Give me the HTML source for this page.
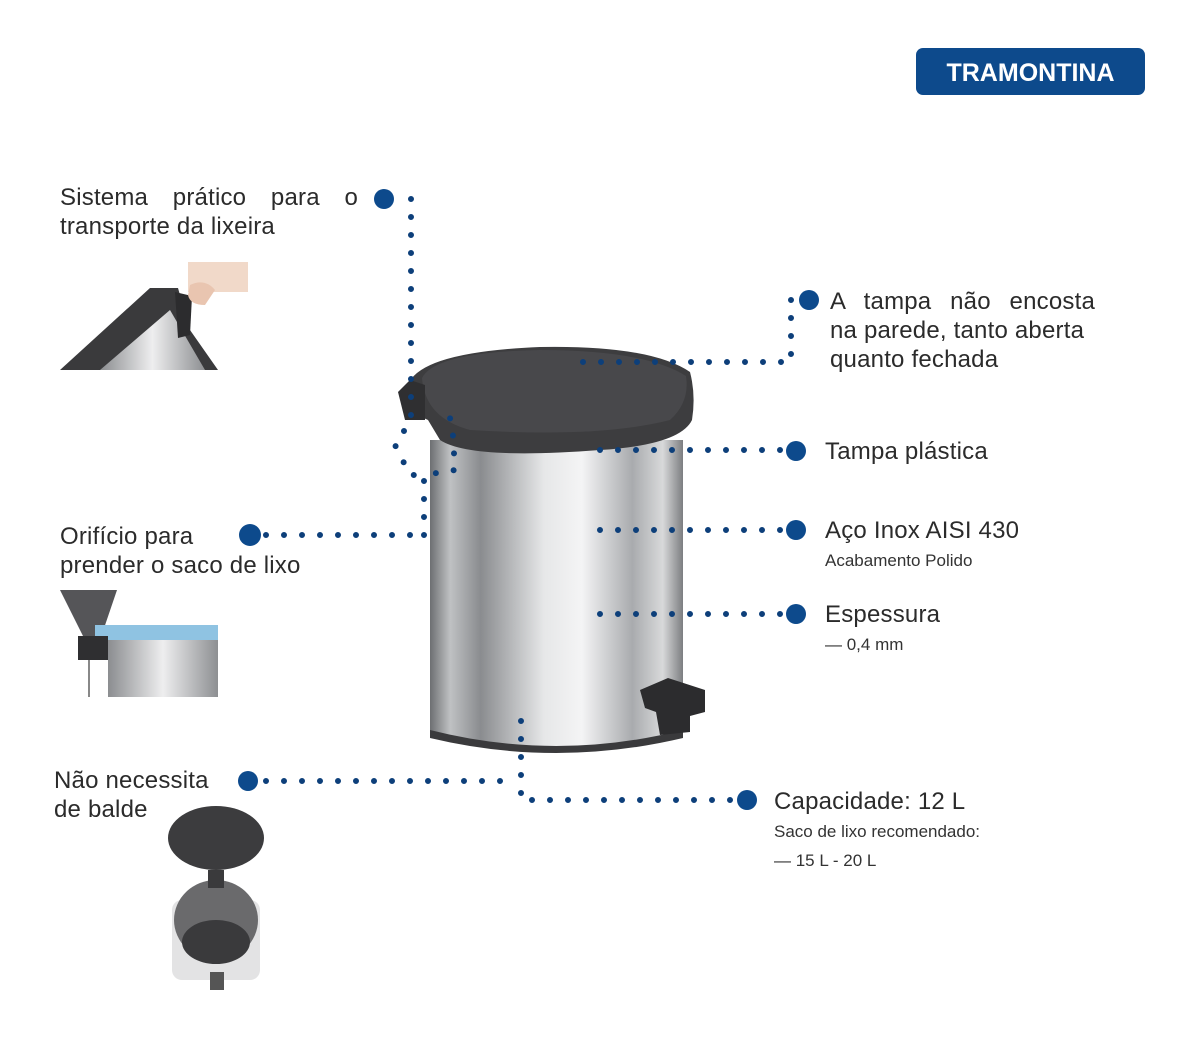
<!DOCTYPE html>
<html><head><meta charset="utf-8">
<style>
html,body{margin:0;padding:0;background:#fff;}
body{width:1200px;height:1039px;position:relative;overflow:hidden;font-family:"Liberation Sans",sans-serif;color:#2b2b2b;}
.t{position:absolute;font-size:24px;line-height:29px;letter-spacing:0.2px;}
.s{position:absolute;font-size:17px;line-height:29px;color:#333;}
svg{position:absolute;left:0;top:0;}
</style></head><body>
<svg width="1200" height="1039" viewBox="0 0 1200 1039">
<defs>
<linearGradient id="steel" x1="0" x2="1" y1="0" y2="0">
<stop offset="0" stop-color="#6d6f72"/><stop offset="0.08" stop-color="#bfc1c3"/>
<stop offset="0.2" stop-color="#8a8c8f"/><stop offset="0.45" stop-color="#e6e7e8"/>
<stop offset="0.6" stop-color="#f4f4f5"/><stop offset="0.8" stop-color="#a9abae"/>
<stop offset="0.92" stop-color="#d8d9da"/><stop offset="1" stop-color="#7c7e81"/>
</linearGradient>
<linearGradient id="steel2" x1="0" x2="1"><stop offset="0" stop-color="#8b8d90"/><stop offset="0.5" stop-color="#eeeeef"/><stop offset="1" stop-color="#8d8f92"/></linearGradient>
</defs>
<rect x="916" y="48" width="229" height="47" rx="7" fill="#0d4a8c"/>
<text x="1030.5" y="81" text-anchor="middle" font-family="Liberation Sans" font-weight="bold" font-size="25" fill="#fff">TRAMONTINA</text>

<path d="M430,440 L683,440 L683,735 Q556,765 430,735 Z" fill="url(#steel)"/>
<path d="M430,730 Q556,762 683,730 L683,738 Q556,768 430,738 Z" fill="#3a3a3c"/>
<path d="M408,385 Q420,352 540,347 Q650,345 690,372 Q696,395 692,420 Q680,445 600,450 Q470,460 440,440 L428,420 Q405,410 400,395 Z" fill="#3d3d3f"/>
<path d="M422,378 Q435,352 540,350 Q645,350 686,376 Q690,402 670,420 Q600,438 470,430 Q425,418 422,378 Z" fill="#48484b"/>
<path d="M398,392 L410,380 L425,385 L425,420 L405,420 Z" fill="#2f2f31"/>
<path d="M640,690 L668,678 L705,690 L705,712 L690,716 L690,732 L660,735 L656,712 L645,708 Z" fill="#2c2c2e"/>

<rect x="188" y="262" width="60" height="30" fill="#f1d9c9"/>
<path d="M60,370 L150,288 L178,288 L190,330 L218,370 Z" fill="#3a3a3c"/>
<path d="M100,370 L170,310 L205,370 Z" fill="url(#steel2)"/>
<path d="M175,292 L192,296 L190,335 L178,338 Z" fill="#2c2c2e"/>
<path d="M190,285 Q205,278 215,290 L205,305 Q190,305 188,295 Z" fill="#e9c5b0"/>
<path d="M60,590 L117,590 L100,640 L85,640 Z" fill="#555558"/>
<path d="M95,625 L218,625 L218,640 L95,640 Z" fill="#8fc3e2"/>
<rect x="108" y="640" width="110" height="57" fill="url(#steel2)"/>
<rect x="78" y="636" width="30" height="24" fill="#2f2f31"/>
<rect x="88" y="660" width="2" height="37" fill="#888"/>
<ellipse cx="216" cy="838" rx="48" ry="32" fill="#3c3c3e"/>
<rect x="172" y="900" width="88" height="80" rx="10" fill="#e3e3e4"/>
<ellipse cx="216" cy="920" rx="42" ry="40" fill="#6a6a6c"/>
<ellipse cx="216" cy="942" rx="34" ry="22" fill="#3a3a3c"/>
<rect x="208" y="870" width="16" height="18" fill="#3a3a3c"/>
<rect x="210" y="972" width="14" height="18" fill="#555"/>

<g stroke="#0d3f7a" stroke-width="6" stroke-linecap="round" stroke-dasharray="0 18" fill="none">
<path d="M411,199 L411,420 L395,445 L410,475 L424,475"/>
<path d="M424,535 L424,475 L455,470 L452,420 L440,410"/>
<path d="M266,535 L424,535"/>
<path d="M791,300 L791,362 L570,362"/>
<path d="M780,450 L598,450"/>
<path d="M780,530 L598,530"/>
<path d="M780,614 L598,614"/>
<path d="M730,800 L521,800 L521,718"/>
<path d="M266,781 L505,781"/>
</g>
<g fill="#0d4a8c">
<circle cx="384" cy="199" r="10"/>
<circle cx="809" cy="300" r="10"/>
<circle cx="796" cy="451" r="10"/>
<circle cx="796" cy="530" r="10"/>
<circle cx="796" cy="614" r="10"/>
<circle cx="747" cy="800" r="10"/>
<circle cx="250" cy="535" r="11"/>
<circle cx="248" cy="781" r="10"/>
</g>
</svg>

<div class="t" style="left:60px;top:183px;width:298px;text-align:justify;text-align-last:justify;">Sistema prático para o</div>
<div class="t" style="left:60px;top:212px;">transporte da lixeira</div>
<div class="t" style="left:60px;top:522px;">Orifício para</div>
<div class="t" style="left:60px;top:551px;">prender o saco de lixo</div>
<div class="t" style="left:54px;top:766px;">Não necessita</div>
<div class="t" style="left:54px;top:795px;">de balde</div>

<div class="t" style="left:830px;top:287px;width:265px;text-align:justify;text-align-last:justify;">A tampa não encosta</div>
<div class="t" style="left:830px;top:316px;">na parede, tanto aberta</div>
<div class="t" style="left:830px;top:345px;">quanto fechada</div>
<div class="t" style="left:825px;top:437px;">Tampa plástica</div>
<div class="t" style="left:825px;top:516px;">Aço Inox AISI 430</div>
<div class="s" style="left:825px;top:546px;">Acabamento Polido</div>
<div class="t" style="left:825px;top:600px;">Espessura</div>
<div class="s" style="left:825px;top:630px;">— 0,4 mm</div>
<div class="t" style="left:774px;top:787px;">Capacidade: 12 L</div>
<div class="s" style="left:774px;top:817px;">Saco de lixo recomendado:</div>
<div class="s" style="left:774px;top:846px;">— 15 L - 20 L</div>
</body></html>
